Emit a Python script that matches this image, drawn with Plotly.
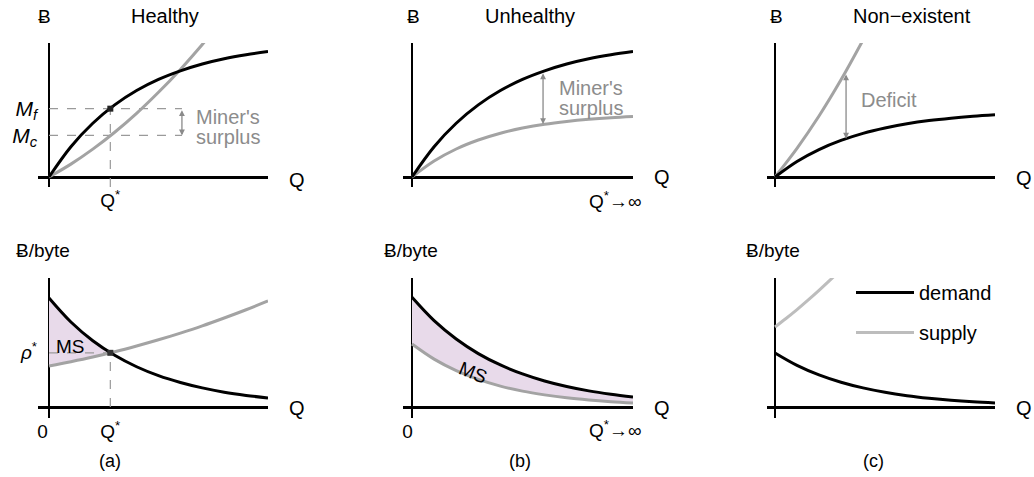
import plotly.graph_objects as go

W, H = 1034, 477

# cantidad Q (eje x comun)
q = [0, 1, 2, 3, 4, 5, 6, 7, 8, 9, 10]

# fila superior: Ƀ total
demand_total = [0, 2.26, 4.01, 5.38, 6.45, 7.28, 7.92, 8.43, 8.82, 9.12, 9.36]
supply_healthy_q = [0, 1, 2, 3, 4, 5, 6, 7, 7.5]
supply_healthy = [0, 0.96, 2.08, 3.34, 4.75, 6.32, 8.03, 9.89, 10.88]
supply_unhealthy = [0, 1.19, 2.09, 2.76, 3.27, 3.65, 3.94, 4.15, 4.31, 4.43, 4.52]
demand_nonexist = [0, 1.16, 2.05, 2.73, 3.26, 3.66, 3.97, 4.21, 4.39, 4.53, 4.64]
supply_nonexist_q = [0, 1, 2, 3, 4]
supply_nonexist = [0, 2.14, 4.55, 7.25, 10.22]

# fila inferior: Ƀ/byte
price_demand_a = [8.45, 6.59, 5.14, 4.01, 3.12, 2.43, 1.90, 1.48, 1.15, 0.90, 0.70]
price_supply_a = [3.18, 3.51, 3.87, 4.28, 4.73, 5.21, 5.73, 6.29, 6.90, 7.54, 8.22]
price_demand_b = [8.50, 6.69, 5.27, 4.14, 3.26, 2.57, 2.02, 1.59, 1.25, 0.99, 0.78]
price_supply_b = [4.88, 3.71, 2.82, 2.14, 1.62, 1.23, 0.94, 0.71, 0.54, 0.41, 0.31]
price_demand_c = [4.19, 3.23, 2.49, 1.92, 1.48, 1.14, 0.88, 0.68, 0.52, 0.40, 0.31]
price_supply_c_q = [0, 0.5, 1, 1.5, 2, 2.5, 3]
price_supply_c = [6.20, 6.86, 7.55, 8.28, 9.04, 9.83, 10.66]

# puntos de equilibrio y anotaciones
q_star = 2.8
m_f, m_c = 5.1, 3.1
rho_star = 4.2
ms_fill_q = [0, 1, 2, 2.8]
ms_fill_top = [8.45, 6.59, 5.14, 4.2]
ms_fill_bot = [3.18, 3.51, 3.87, 4.2]
surplus_a = (6.07, m_f, m_c)
surplus_b = (5.93, 7.85, 3.95)
deficit_c = (3.23, 7.76, 2.86)

BLACK = "#000000"
GRAY = "#a3a3a3"
LIGHT = "#bdbdbd"
TXT_GRAY = "#8c8c8c"
PINK = "rgb(232,218,234)"
FONT = "Liberation Sans, Arial, sans-serif"

# posiciones de paneles en pixeles
cols = [(38, 268, 49), (403, 633, 412), (767, 995, 775)]
rows = [(43, 187, 177), (278, 418, 407)]

fig = go.Figure()

layout_axes = {}
k = 0
for (t, b, oy) in rows:
    for (l, r, ox) in cols:
        k += 1
        sfx = "" if k == 1 else str(k)
        layout_axes["xaxis" + sfx] = dict(
            domain=[l / W, r / W], range=[-(ox - l) / (r - ox) * 10, 10],
            anchor="y" + sfx, showgrid=False, showticklabels=False, ticks="",
            zeroline=True, zerolinecolor=BLACK, zerolinewidth=1.6,
            fixedrange=True, tickfont=dict(size=19, color=BLACK))
        layout_axes["yaxis" + sfx] = dict(
            domain=[1 - b / H, 1 - t / H], range=[-(b - oy) / (oy - t) * 10, 10],
            anchor="x" + sfx, showgrid=False, showticklabels=False, ticks="",
            zeroline=True, zerolinecolor=BLACK, zerolinewidth=2.6,
            fixedrange=True, tickfont=dict(size=19, color=BLACK))


def ax(i):
    return ("x" if i == 1 else "x%d" % i), ("y" if i == 1 else "y%d" % i)


def line(x, y, i, color, width=3, dash=None, name=None, legend=False, shape="spline"):
    xa, ya = ax(i)
    fig.add_trace(go.Scatter(x=x, y=y, xaxis=xa, yaxis=ya, mode="lines",
                             line=dict(color=color, width=width, dash=dash, shape=shape),
                             name=name, showlegend=legend, hoverinfo="skip"))


def fill_between(x, top, bot, i, shape="spline"):
    xa, ya = ax(i)
    fig.add_trace(go.Scatter(x=x, y=bot, xaxis=xa, yaxis=ya, mode="lines",
                             line=dict(width=0, shape=shape), showlegend=False, hoverinfo="skip"))
    fig.add_trace(go.Scatter(x=x, y=top, xaxis=xa, yaxis=ya, mode="lines", fill="tonexty",
                             fillcolor=PINK, line=dict(width=0, shape=shape),
                             showlegend=False, hoverinfo="skip"))


# (a) arriba - Healthy
line([0, surplus_a[0]], [m_f, m_f], 1, "#9a9a9a", 1.2, "dash", shape="linear")
line([0, surplus_a[0]], [m_c, m_c], 1, "#9a9a9a", 1.2, "dash", shape="linear")
line([q_star, q_star], [-0.75, m_f], 1, "#9a9a9a", 1.2, "dash", shape="linear")
line(supply_healthy_q, supply_healthy, 1, GRAY)
line(q, demand_total, 1, BLACK)
fig.add_trace(go.Scatter(x=[q_star], y=[m_f], mode="markers", xaxis="x", yaxis="y",
                         marker=dict(symbol="square", size=6, color="#222"),
                         showlegend=False, hoverinfo="skip"))

# (b) arriba - Unhealthy
line(q, supply_unhealthy, 2, GRAY)
line(q, demand_total, 2, BLACK)

# (c) arriba - Non-existent
line(supply_nonexist_q, supply_nonexist, 3, GRAY)
line(q, demand_nonexist, 3, BLACK)

# (a) abajo
fill_between(ms_fill_q, ms_fill_top, ms_fill_bot, 4)
line([0, q_star], [rho_star, rho_star], 4, "#9a9a9a", 1.2, "dash", shape="linear")
line([q_star, q_star], [0, rho_star], 4, "#9a9a9a", 1.2, "dash", shape="linear")
line(q, price_supply_a, 4, GRAY)
line(q, price_demand_a, 4, BLACK)
fig.add_trace(go.Scatter(x=[q_star], y=[rho_star], mode="markers", xaxis="x4", yaxis="y4",
                         marker=dict(symbol="square", size=6, color="#333"),
                         showlegend=False, hoverinfo="skip"))

# (b) abajo
fill_between(q, price_demand_b, price_supply_b, 5)
line(q, price_supply_b, 5, GRAY)
line(q, price_demand_b, 5, BLACK)

# (c) abajo + leyenda
line(price_supply_c_q, price_supply_c, 6, LIGHT)
line(q, price_demand_c, 6, BLACK)
line([None], [None], 6, BLACK, 3, name="demand", legend=True)
line([None], [None], 6, LIGHT, 3, name="supply", legend=True)
fig.data[-2].legendgroup = "d"
fig.data[-1].legendgroup = "s"

# ticks
layout_axes["xaxis"].update(showticklabels=True, tickvals=[q_star], ticktext=["Q<sup>*</sup>"])
layout_axes["yaxis"].update(showticklabels=True, tickvals=[m_c, m_f],
                            ticktext=["<i>M</i><sub><i>c</i></sub>", "<i>M</i><sub><i>f</i></sub>"],
                            tickfont=dict(size=21, color=BLACK))
layout_axes["xaxis4"].update(showticklabels=True, tickvals=[-0.3, q_star], ticktext=["0", "Q<sup>*</sup>"])
layout_axes["yaxis4"].update(showticklabels=True, tickvals=[rho_star], ticktext=["<i>ρ</i><sup>*</sup>"])
layout_axes["xaxis5"].update(showticklabels=True, tickvals=[-0.2], ticktext=["0"])

annotations = []


def txt(s, x, y, size=19, color=BLACK, xanchor="center", angle=0):
    annotations.append(dict(text=s, x=x / W, y=1 - y / H, xref="paper", yref="paper",
                            xanchor=xanchor, yanchor="middle", showarrow=False,
                            textangle=angle, font=dict(size=size, color=color, family=FONT)))


def arrow(i, x, y0, y1):
    xa, ya = ax(i)
    annotations.append(dict(text="", x=x, y=y1, ax=x, ay=y0, xref=xa, yref=ya, axref=xa, ayref=ya,
                            showarrow=True, arrowhead=2, arrowside="end+start", arrowsize=0.9,
                            arrowwidth=1.3, arrowcolor="#8a8a8a"))


# titulos superiores
txt("Ƀ", 44, 16)
txt("Healthy", 165, 16, size=20)
txt("Ƀ", 413, 16)
txt("Unhealthy", 530, 16, size=20)
txt("Ƀ", 776, 16)
txt("Non\u2212existent", 912, 16, size=20)
# etiquetas Ƀ/byte
txt("Ƀ/byte", 14, 251, xanchor="left")
txt("Ƀ/byte", 382, 251, xanchor="left")
txt("Ƀ/byte", 744, 251, xanchor="left")
# ejes Q
for xq, yq in [(297, 180), (662, 177), (1024, 178), (297, 408), (662, 408), (1024, 408)]:
    txt("Q", xq, yq, size=20)
txt("Q<sup>*</sup>\u2192\u221e", 615, 200)
txt("Q<sup>*</sup>\u2192\u221e", 615, 429)
# textos internos
txt("Miner's", 194, 117, color=TXT_GRAY, xanchor="left", size=20)
txt("surplus", 194, 137, color=TXT_GRAY, xanchor="left", size=20)
txt("Miner's", 557, 88, color=TXT_GRAY, xanchor="left", size=20)
txt("surplus", 557, 108, color=TXT_GRAY, xanchor="left", size=20)
txt("Deficit", 859, 100, color=TXT_GRAY, xanchor="left", size=20)
txt("MS", 54, 346, xanchor="left")
txt("MS", 473, 372, angle=22)
# subtitulos
txt("(a)", 110, 461, size=18)
txt("(b)", 520, 461, size=18)
txt("(c)", 873, 461, size=18)

arrow(1, *surplus_a)
arrow(2, *surplus_b)
arrow(3, *deficit_c)

fig.update_layout(
    width=W, height=H, margin=dict(l=0, r=0, t=0, b=0),
    paper_bgcolor="white", plot_bgcolor="white",
    font=dict(family=FONT, size=19, color=BLACK),
    showlegend=True,
    legend=dict(x=851 / W, y=1 - 273 / H, xanchor="left", yanchor="top",
                traceorder="grouped", tracegroupgap=11, itemwidth=58,
                font=dict(size=20, family=FONT), bgcolor="rgba(0,0,0,0)"),
    annotations=annotations,
    **layout_axes,
)

fig.write_html("out.html", config={"displayModeBar": False},
               post_script="document.body.style.margin='0px';")
